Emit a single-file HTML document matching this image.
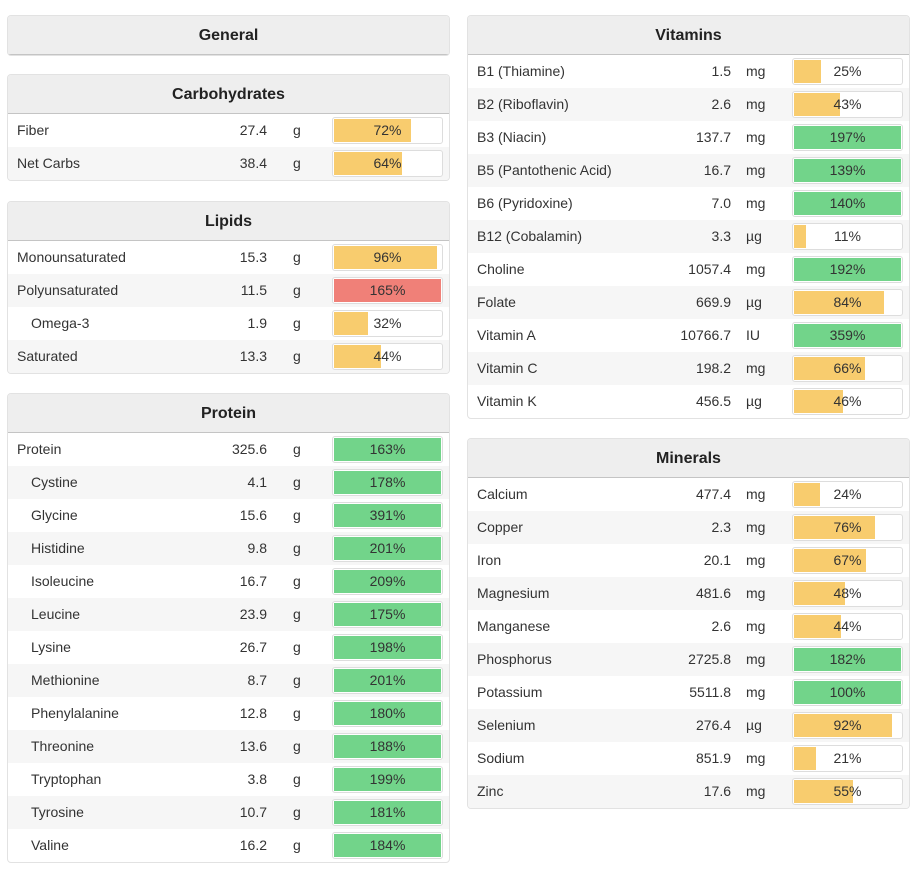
<!DOCTYPE html>
<html><head><meta charset="utf-8"><style>
body{margin:0;width:915px;height:874px;background:#fff;font-family:"Liberation Sans",sans-serif;position:relative;overflow:hidden}
.panel{position:absolute;border:1px solid #e2e2e2;border-radius:4px;background:#fff;overflow:hidden}
.hdr{height:38px;background:#eeeeee;border-bottom:1px solid #c4c4c4;text-align:center;line-height:39px;font-weight:bold;font-size:16px;color:#222}
.row{position:relative;height:33px;font-size:14px;color:#333;line-height:33px}
.row.alt{background:#f6f6f6}
.nm{position:absolute;left:9px}
.nm.ind{left:23px}
.val{position:absolute;width:80px;text-align:right}
.unit{position:absolute}
.bar{position:absolute;top:3px;height:25px;border:1px solid #ddd;border-radius:3px;background:#fff;overflow:hidden;width:109px}
.fill{position:absolute;left:1px;top:1px;bottom:1px}
.pct{position:absolute;left:0;right:0;text-align:center;line-height:25px;color:#333}
</style></head><body>
<script>
const panels=[
{t:"General",x:7,y:15,w:441,rows:[]},
{t:"Carbohydrates",x:7,y:74,w:441,rows:[["Fiber",0,"27.4","g",72],["Net Carbs",0,"38.4","g",64]]},
{t:"Lipids",x:7,y:201,w:441,rows:[["Monounsaturated",0,"15.3","g",96],["Polyunsaturated",0,"11.5","g",165,"r"],["Omega-3",1,"1.9","g",32],["Saturated",0,"13.3","g",44]]},
{t:"Protein",x:7,y:393,w:441,rows:[["Protein",0,"325.6","g",163],["Cystine",1,"4.1","g",178],["Glycine",1,"15.6","g",391],["Histidine",1,"9.8","g",201],["Isoleucine",1,"16.7","g",209],["Leucine",1,"23.9","g",175],["Lysine",1,"26.7","g",198],["Methionine",1,"8.7","g",201],["Phenylalanine",1,"12.8","g",180],["Threonine",1,"13.6","g",188],["Tryptophan",1,"3.8","g",199],["Tyrosine",1,"10.7","g",181],["Valine",1,"16.2","g",184]]},
{t:"Vitamins",x:467,y:15,w:441,rows:[["B1 (Thiamine)",0,"1.5","mg",25],["B2 (Riboflavin)",0,"2.6","mg",43],["B3 (Niacin)",0,"137.7","mg",197],["B5 (Pantothenic Acid)",0,"16.7","mg",139],["B6 (Pyridoxine)",0,"7.0","mg",140],["B12 (Cobalamin)",0,"3.3","µg",11],["Choline",0,"1057.4","mg",192],["Folate",0,"669.9","µg",84],["Vitamin A",0,"10766.7","IU",359],["Vitamin C",0,"198.2","mg",66],["Vitamin K",0,"456.5","µg",46]]},
{t:"Minerals",x:467,y:438,w:441,rows:[["Calcium",0,"477.4","mg",24],["Copper",0,"2.3","mg",76],["Iron",0,"20.1","mg",67],["Magnesium",0,"481.6","mg",48],["Manganese",0,"2.6","mg",44],["Phosphorus",0,"2725.8","mg",182],["Potassium",0,"5511.8","mg",100],["Selenium",0,"276.4","µg",92],["Sodium",0,"851.9","mg",21],["Zinc",0,"17.6","mg",55]]}
];
panels.forEach(p=>{
 const d=document.createElement('div');d.className='panel';
 
 
 d.style.left=p.x+'px';d.style.top=p.y+'px';d.style.width=p.w+'px';
 const h=document.createElement('div');h.className='hdr';h.textContent=p.t;
 
 
 d.appendChild(h);
 const right=p.x>400;
 p.rows.forEach((r,i)=>{
  const row=document.createElement('div');row.className='row'+(i%2?' alt':'');
  
  
  const valL=right?183:179, unitL=right?278:285, barL=324;
  const pct=r[4];
  const col=r[5]=='r'?'#f08078':(pct>=100?'#72d48a':'#f8cc6e');
  const fw=Math.min(pct,100)/100*107;
  row.innerHTML=`<span class="nm${r[1]?' ind':''}">${r[0]}</span><span class="val" style="left:${valL}px">${r[2]}</span><span class="unit" style="left:${unitL}px">${r[3]}</span><div class="bar" style="left:${barL}px"><div class="fill" style="width:${fw}px;background:${col}"></div><div class="pct">${pct}%</div></div>`;
  d.appendChild(row);
 });
 document.body.appendChild(d);
});
</script>
</body></html>
